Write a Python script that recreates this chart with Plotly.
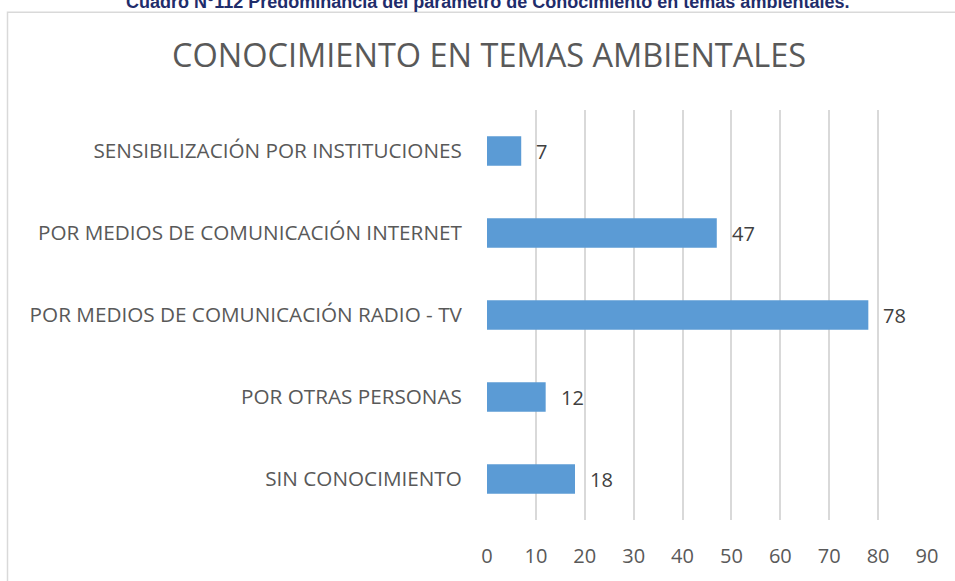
import plotly.graph_objects as go

# Survey results: how respondents learned about environmental topics
categories = [
    "SIN CONOCIMIENTO",
    "POR OTRAS PERSONAS",
    "POR MEDIOS DE COMUNICACIÓN RADIO - TV",
    "POR MEDIOS DE COMUNICACIÓN INTERNET",
    "SENSIBILIZACIÓN POR INSTITUCIONES",
]
values = [18, 12, 78, 47, 7]
x_ticks = [0, 10, 20, 30, 40, 50, 60, 70, 80, 90]

W, H = 955, 581
ML, MR, MT, MB = 487, 28, 109.5, 56.5
PW, PH = W - ML - MR, H - MT - MB

def px_x(p):
    return (p - ML) / PW

def px_y(p):
    return (H - MB - p) / PH

BAR = "#5B9BD5"
GRAY = "#595959"
GRID = "#D9D9D9"
FONT = "Open Sans, Noto Sans, sans-serif"

fig = go.Figure(
    go.Bar(
        x=values,
        y=categories,
        orientation="h",
        marker=dict(color=BAR, line=dict(width=0)),
        hoverinfo="skip",
    )
)

# data labels beside each bar end
for c, v in zip(categories, values):
    fig.add_annotation(
        x=v, y=c, xref="x", yref="y",
        text=str(v), showarrow=False,
        xanchor="left", yanchor="middle", xshift=13,
        font=dict(family=FONT, size=20, color="#404040"),
    )

# chart title
fig.add_annotation(
    x=px_x(488.5), y=px_y(53.5), xref="paper", yref="paper",
    text="CONOCIMIENTO EN TEMAS AMBIENTALES", showarrow=False,
    xanchor="center", yanchor="middle",
    font=dict(family=FONT, size=32.5, color=GRAY),
)

# document caption above the chart frame
fig.add_annotation(
    x=px_x(487), y=px_y(12), xref="paper", yref="paper",
    text="<b>Cuadro N°112 Predominancia del parámetro de Conocimiento en temas ambientales.</b>",
    showarrow=False, xanchor="center", yanchor="bottom",
    font=dict(family="Liberation Sans Narrow, Arial Narrow, sans-serif", size=18, color="#1F2D6B"),
)

# chart frame
fig.add_shape(
    type="rect", xref="paper", yref="paper",
    x0=px_x(7.5), x1=px_x(980), y0=px_y(10.5), y1=px_y(600),
    line=dict(color=GRID, width=1.5), fillcolor="rgba(0,0,0,0)", layer="below",
)

fig.update_layout(
    width=W, height=H,
    margin=dict(l=ML, r=MR, t=MT, b=MB, pad=0),
    paper_bgcolor="white", plot_bgcolor="white",
    bargap=0.64,
    showlegend=False,
    xaxis=dict(
        range=[0, 90], tickvals=x_ticks,
        showgrid=True, gridcolor=GRID, gridwidth=1.5,
        zeroline=False, showline=False,
        ticks="outside", ticklen=18, tickcolor="rgba(0,0,0,0)",
        tickfont=dict(family=FONT, size=20, color=GRAY),
        fixedrange=True,
    ),
    yaxis=dict(
        showgrid=False, zeroline=False, showline=False,
        ticks="outside", ticklen=20, tickcolor="rgba(0,0,0,0)",
        tickfont=dict(family=FONT, size=20.7, color=GRAY),
        fixedrange=True,
    ),
)

fig.write_html("out.html")
